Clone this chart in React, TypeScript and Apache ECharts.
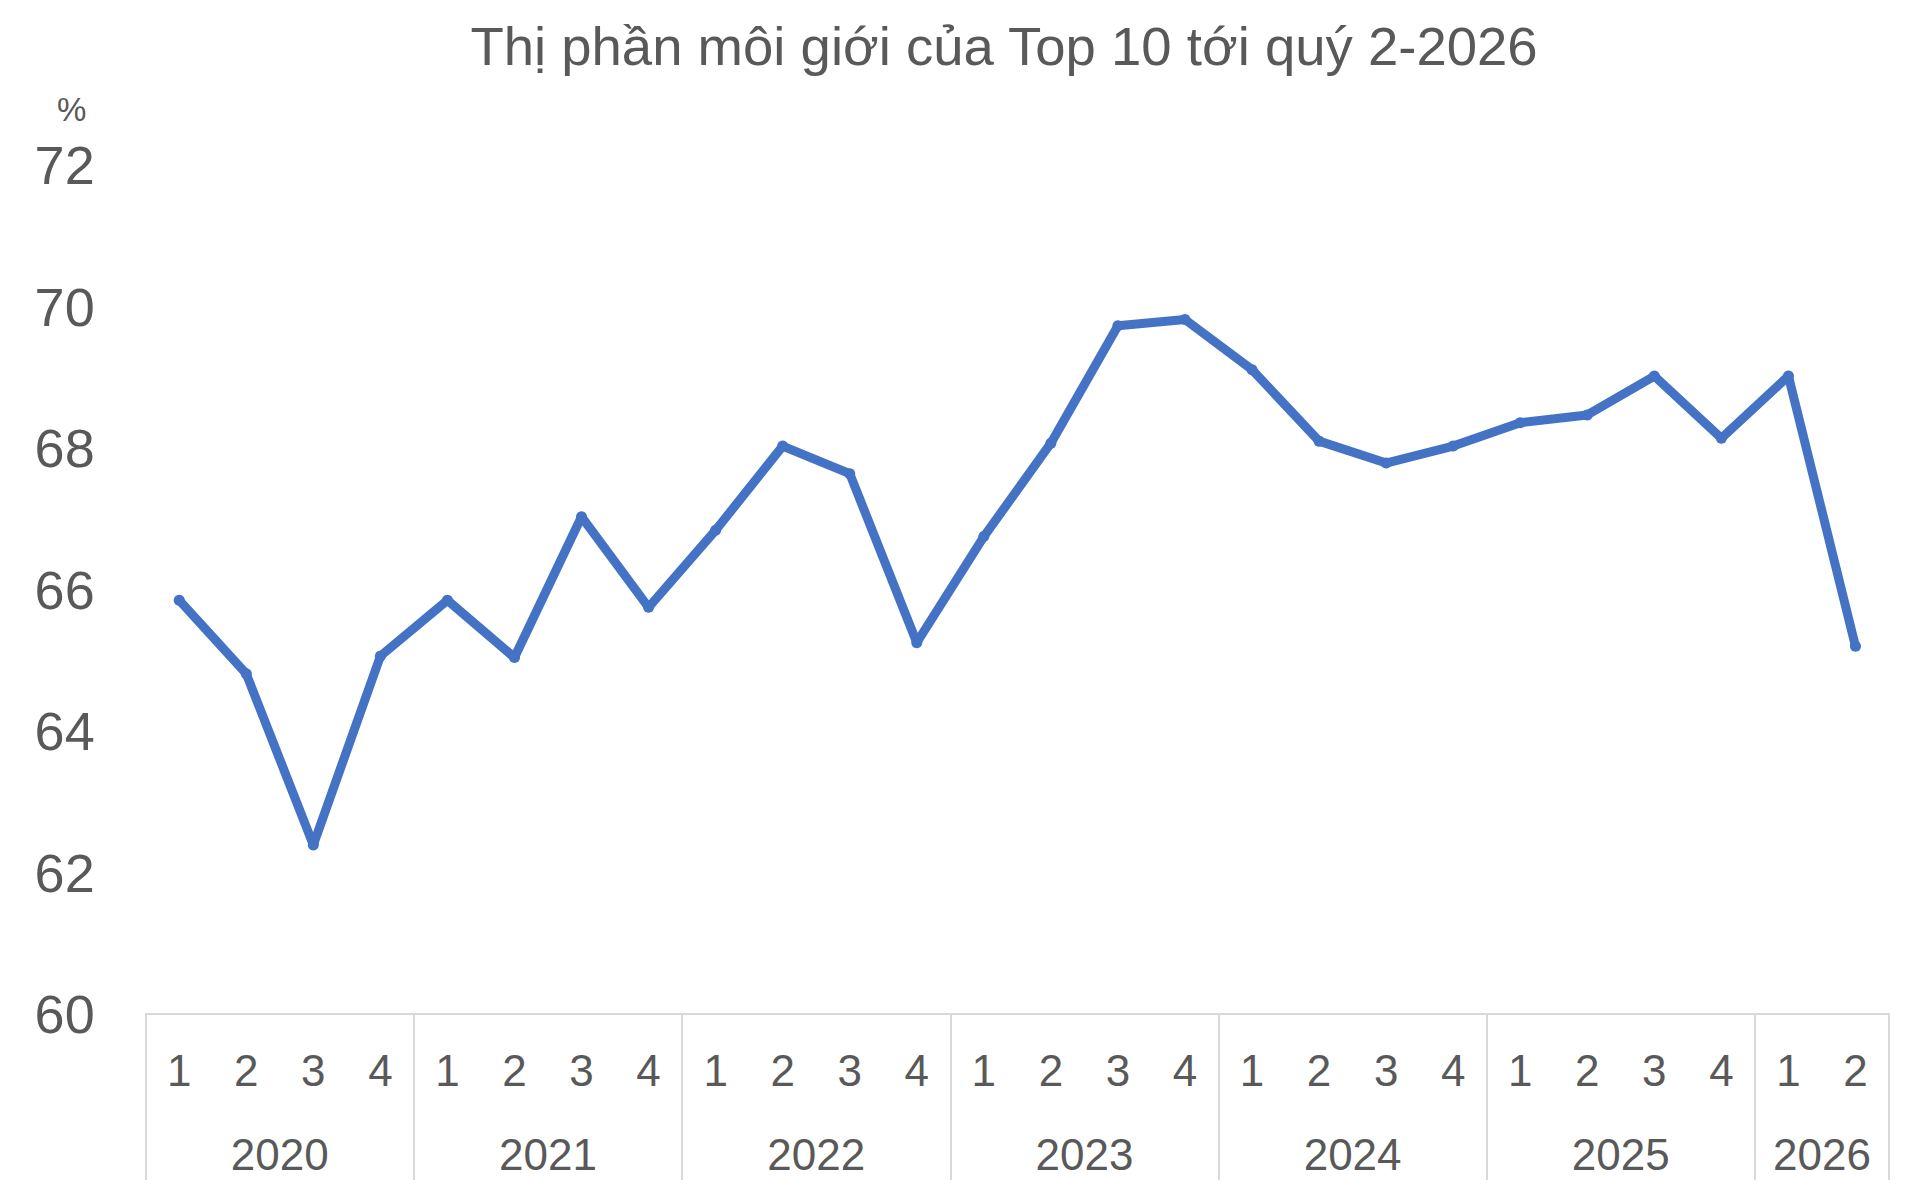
import { useEffect, useRef } from 'react';
import * as echarts from 'echarts';

// Data
const years = ['2020', '2021', '2022', '2023', '2024', '2025', '2026'];
const quartersPerYear = [4, 4, 4, 4, 4, 4, 2];
const quarterLabels = [
    '1', '2', '3', '4', '1', '2', '3', '4', '1', '2', '3', '4', '1', '2', '3', '4',
    '1', '2', '3', '4', '1', '2', '3', '4', '1', '2',
];
const top10Share = [
    65.85, 64.81, 62.39, 65.06,
    65.85, 65.04, 67.03, 65.75,
    66.84, 68.03, 67.64, 65.25,
    66.75, 68.07, 69.73, 69.82,
    69.11, 68.10, 67.79, 68.03,
    68.36, 68.47, 69.02, 68.14,
    69.02, 65.20,
];
const yTicks = { min: 60, max: 72, interval: 2 };

const TITLE = 'Thị phần môi giới của Top 10 tới quý 2-2026';
const FONT = '"Liberation Sans", Arial, Helvetica, sans-serif';
const TEXT = '#595959';
const AXIS = '#d9d9d9';
const LINE = '#4472C4';

const GRID = { left: 145.7, right: 31, top: 165.3, bottom: 186 };
const WIDTH = 1920;
const HEIGHT = 1200;

export default function App() {
    const chartRef = useRef<HTMLDivElement>(null);

    useEffect(() => {
        if (!chartRef.current) return;
        const chart = echarts.init(chartRef.current, undefined, { renderer: 'svg' });

        // one category per quarter, year index of each
        const yearOfIdx: number[] = [];
        const yearStarts: number[] = [];
        quartersPerYear.forEach((n, y) => {
            yearStarts.push(yearOfIdx.length);
            for (let i = 0; i < n; i++) yearOfIdx.push(y);
        });
        const categories = quarterLabels.map((q, i) => `${years[yearOfIdx[i]]}-${q}`);
        // year label sits half a band right of this index (middle of its group)
        const yearLabelIdx = new Set(
            yearStarts.map((s, y) => s + Math.floor((quartersPerYear[y] - 1) / 2))
        );
        const groupStarts = new Set(yearStarts);
        const bandWidth = (WIDTH - GRID.left - GRID.right) / categories.length;

        chart.setOption({
            animation: false,
            textStyle: { fontFamily: FONT },
            title: {
                text: TITLE,
                left: 999,
                top: 14,
                textAlign: 'center',
                textStyle: { fontFamily: FONT, fontSize: 54.5, fontWeight: 'normal', color: TEXT },
            },
            graphic: [
                {
                    type: 'text',
                    left: 57,
                    top: 93,
                    style: { text: '%', fontSize: 33, fontFamily: FONT, fill: TEXT },
                },
            ],
            grid: { ...GRID, containLabel: false, outerBoundsMode: 'none' },
            xAxis: [
                {
                    type: 'category',
                    data: categories,
                    boundaryGap: true,
                    axisLine: { show: true, lineStyle: { color: AXIS, width: 2 } },
                    axisTick: {
                        show: true,
                        interval: (index: number) => groupStarts.has(index),
                        length: 166,
                        lineStyle: { color: AXIS, width: 2 },
                    },
                    axisLabel: {
                        interval: 0,
                        margin: 34,
                        fontSize: 44,
                        fontFamily: FONT,
                        color: TEXT,
                        formatter: (_v: string, i: number) => quarterLabels[i],
                    },
                    splitLine: { show: false },
                },
                {
                    type: 'category',
                    data: categories,
                    position: 'bottom',
                    boundaryGap: true,
                    axisLine: { show: false },
                    axisTick: { show: false },
                    axisLabel: {
                        interval: (index: number) => yearLabelIdx.has(index),
                        margin: 118,
                        fontSize: 44,
                        fontFamily: FONT,
                        color: TEXT,
                        align: 'center',
                        padding: [0, 0, 0, bandWidth],
                        formatter: (_v: string, i: number) => years[yearOfIdx[i]],
                    },
                    splitLine: { show: false },
                },
            ],
            yAxis: {
                type: 'value',
                min: yTicks.min,
                max: yTicks.max,
                interval: yTicks.interval,
                axisLine: { show: false },
                axisTick: { show: false },
                splitLine: { show: false },
                axisLabel: { margin: 51, fontSize: 54, fontFamily: FONT, color: TEXT },
            },
            series: [
                {
                    name: 'Top 10',
                    type: 'line',
                    xAxisIndex: 0,
                    data: top10Share,
                    symbol: 'circle',
                    symbolSize: 11,
                    showSymbol: true,
                    itemStyle: { color: LINE },
                    lineStyle: { color: LINE, width: 9, join: 'round', cap: 'round' },
                },
            ],
        });

        return () => {
            chart.dispose();
        };
    }, []);

    return (
        <div
            ref={chartRef}
            style={{ position: 'fixed', left: 0, top: 0, width: WIDTH, height: HEIGHT, background: '#fff' }}
        />
    );
}
